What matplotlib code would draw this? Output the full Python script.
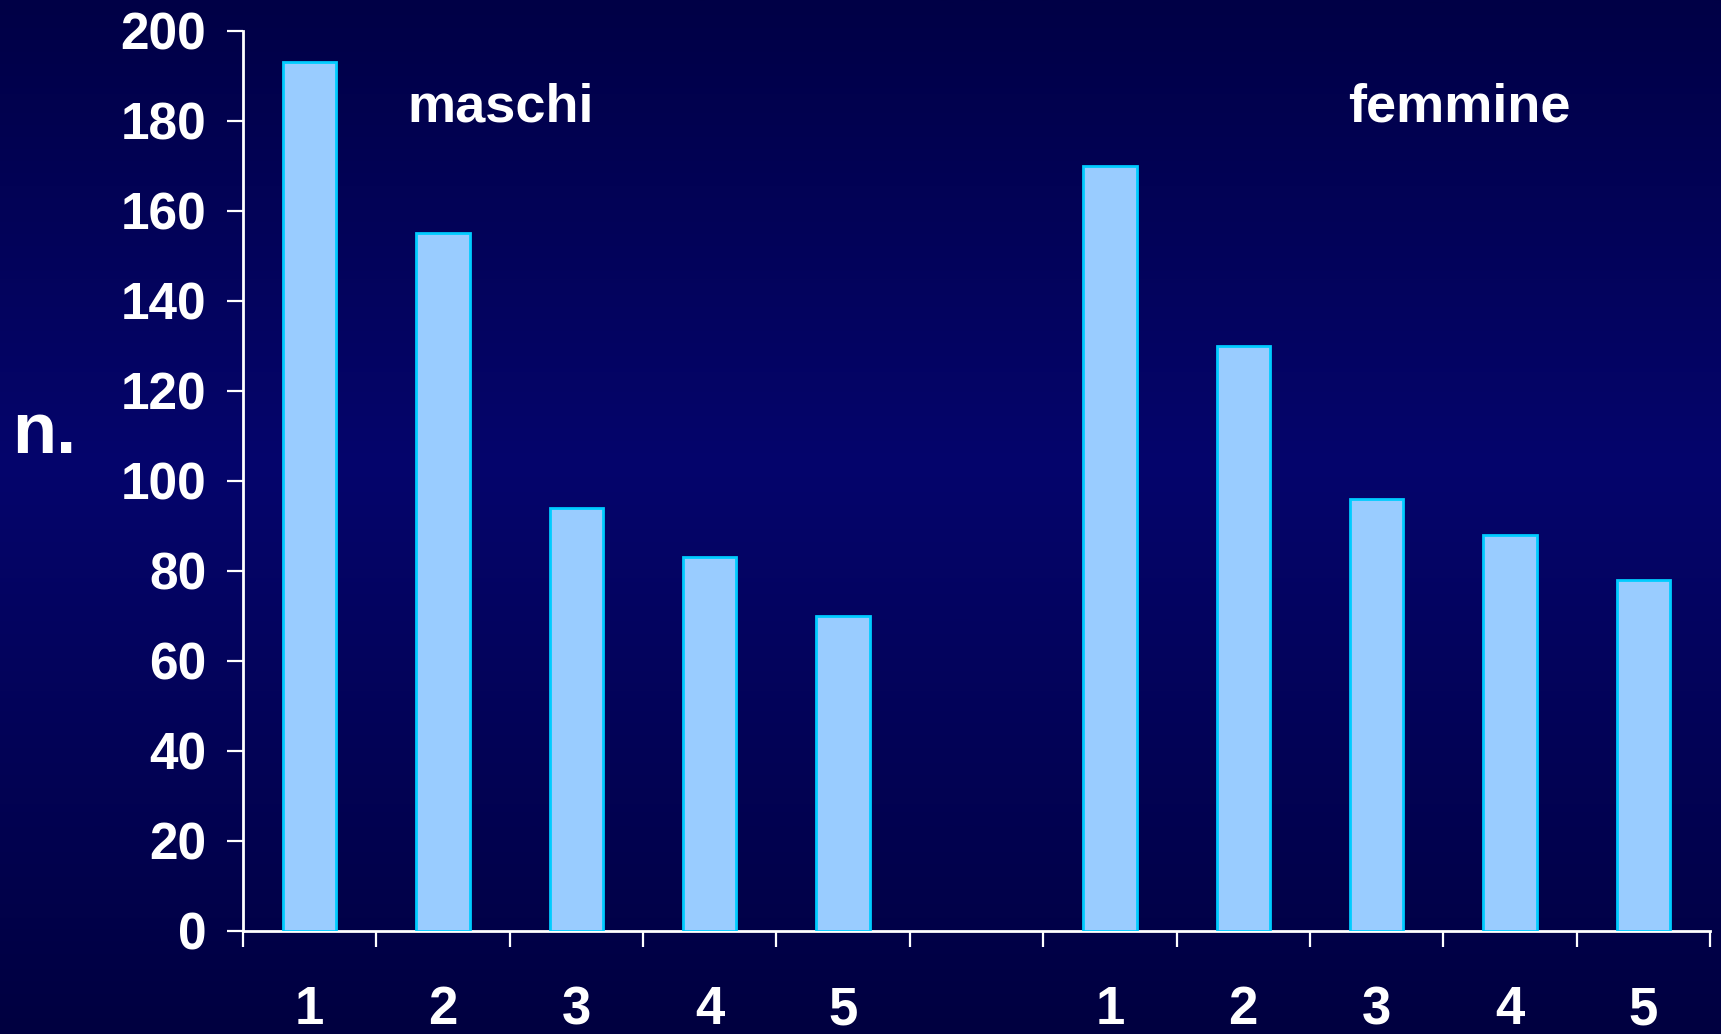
import numpy as np
import matplotlib
matplotlib.use("Agg")
import matplotlib.pyplot as plt
from matplotlib.colors import LinearSegmentedColormap

# Data
categories = ["1", "2", "3", "4", "5"]
maschi = [193, 155, 94, 83, 70]
femmine = [170, 130, 96, 88, 78]
y_ticks = [0, 20, 40, 60, 80, 100, 120, 140, 160, 180, 200]

plt.rcParams["font.family"] = ["Liberation Sans", "DejaVu Sans"]
plt.rcParams["font.weight"] = "bold"

W, H, DPI = 1721, 1034, 100
fig = plt.figure(figsize=(W / DPI, H / DPI), dpi=DPI)

# Vertical navy gradient background
bg = fig.add_axes([0, 0, 1, 1], zorder=0)
cmap = LinearSegmentedColormap.from_list(
    "navy", [(0.0, "#000040"), (0.55, "#05056c"), (1.0, "#000046")])
grad = np.linspace(0, 1, 512).reshape(-1, 1)
bg.imshow(grad, aspect="auto", cmap=cmap, origin="lower", extent=[0, 1, 0, 1])
bg.set_axis_off()

ax = fig.add_axes([243 / W, 1 - 931 / H, (1710 - 243) / W, (931 - 30.7) / H], zorder=1)
ax.set_facecolor("none")

x_m = np.arange(len(maschi))
x_f = np.arange(len(femmine)) + len(maschi) + 1
bar_kw = dict(width=0.4, color="#99ccff", edgecolor="#00ccff", linewidth=2.0, zorder=3)
ax.bar(x_m, maschi, **bar_kw)
ax.bar(x_f, femmine, **bar_kw)

n_slots = len(maschi) + len(femmine) + 1
ax.set_xlim(-0.5, n_slots - 0.5)
ax.set_ylim(0, 200)

for s in ["top", "right"]:
    ax.spines[s].set_visible(False)
for s in ["left", "bottom"]:
    ax.spines[s].set_color("white")
    ax.spines[s].set_linewidth(2)

ax.set_yticks(y_ticks)
ax.set_yticklabels([str(v) for v in y_ticks])
ax.tick_params(axis="y", direction="out", length=11.5, width=1.6, color="white",
               labelcolor="white", labelsize=37, pad=15)

ax.set_xticks(list(x_m) + list(x_f))
ax.set_xticklabels(categories + categories)
ax.set_xticks(np.arange(-0.5, n_slots, 1.0), minor=True)
ax.tick_params(axis="x", which="major", length=0, labelcolor="white",
               labelsize=38, pad=39)
ax.tick_params(axis="x", which="minor", direction="out", length=11.5, width=1.6,
               color="white")
for lbl in ax.get_xticklabels() + ax.get_yticklabels():
    lbl.set_fontweight("bold")

txt_kw = dict(color="white", fontsize=39, fontweight="bold", va="baseline")
fig.text(500.5 / W, 1 - 122 / H, "maschi", ha="center", **txt_kw)
fig.text(1459 / W, 1 - 122 / H, "femmine", ha="center", **txt_kw)
fig.text(12 / W, 1 - 452.7 / H, "n.", ha="left", color="white", fontsize=52,
         fontweight="bold", va="baseline")

fig.savefig("out.png", dpi=DPI)
